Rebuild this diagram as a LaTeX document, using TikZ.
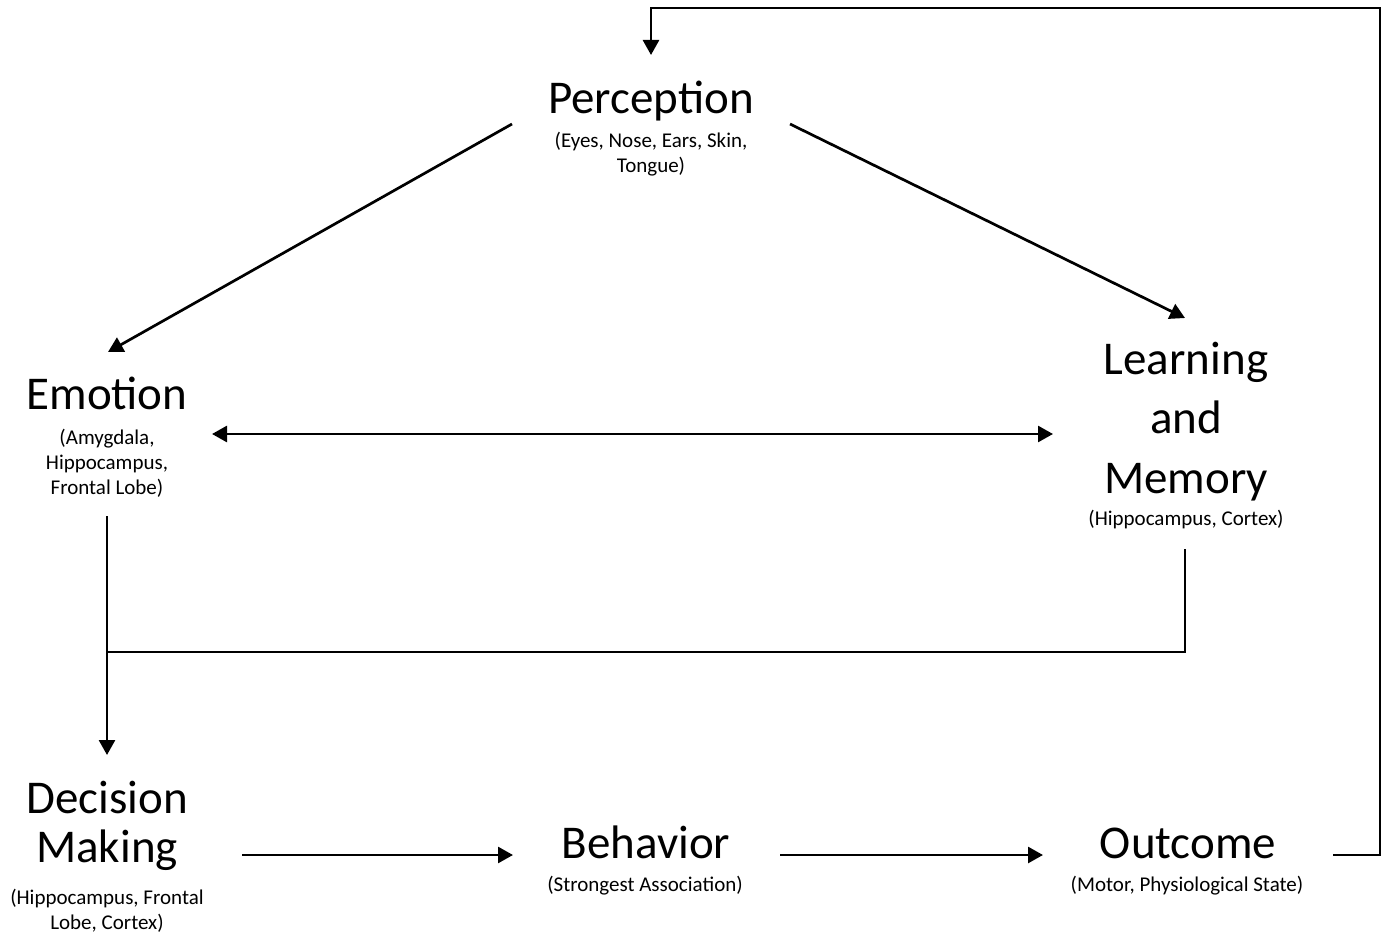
\documentclass[tikz,border=0pt]{standalone}
\usepackage{fontspec}
\setmainfont{Carlito}
\usetikzlibrary{arrows.meta}
\begin{document}
\begin{tikzpicture}[x=1pt,y=-1pt,
  title/.style={font=\fontsize{47}{57}\selectfont, inner sep=0pt, anchor=base, align=center},
  sub/.style={font=\fontsize{21}{25}\selectfont, inner sep=0pt, anchor=base, align=center},
  conn/.style={line width=2.7pt},
  arr/.style={conn, -{Triangle[length=15pt,width=16pt]}},
  darr/.style={conn, {Triangle[length=15pt,width=16pt]}-{Triangle[length=15pt,width=16pt]}}]
\path[use as bounding box, fill=white] (0,0) rectangle (1387,936);
% nodes (anchor base = baseline of the last line)
\node[title] (per) at (651,114) {Perception};
\node[sub] (perS) at (651,173) {(Eyes, Nose, Ears, Skin,\\Tongue)};
\node[title] (emo) at (107,409) {Emotion};
\node[sub] (emoS) at (107,494) {(Amygdala,\\Hippocampus,\\Frontal Lobe)};
\node[title, font=\fontsize{47}{59.5}\selectfont] (lm) at (1186,493) {Learning\\and\\Memory};
\node[sub] (lmS) at (1186,525) {(Hippocampus, Cortex)};
\node[title, font=\fontsize{47}{49}\selectfont] (dm) at (107,862) {Decision\\Making};
\node[sub] (dmS) at (107,929) {(Hippocampus, Frontal\\Lobe, Cortex)};
\node[title] (beh) at (646,858) {Behavior};
\node[sub] (behS) at (645,891) {(Strongest Association)};
\node[title] (out) at (1188,858) {Outcome};
\node[sub] (outS) at (1187,891) {(Motor, Physiological State)};
% connector end points
\coordinate (perL) at (512,124);
\coordinate (perR) at (790,124);
\coordinate (perT) at (651,55);
\coordinate (emoT) at (108,352);
\coordinate (emoR) at (212,434);
\coordinate (emoB) at (107,516);
\coordinate (lmT) at (1185,318);
\coordinate (lmL) at (1053,434);
\coordinate (lmB) at (1185,549);
\coordinate (join) at (107,652);
\coordinate (dmT) at (107,755);
\coordinate (dmR) at (242,855);
\coordinate (behL) at (513,855);
\coordinate (behR) at (780,855);
\coordinate (outL) at (1043,855);
\coordinate (outR) at (1333,855);
% connectors
\draw[arr] (perL) -- (emoT);
\draw[arr] (perR) -- (lmT);
\draw[darr] (emoR) -- (lmL);
\draw[arr] (emoB) -- (dmT);
\draw[conn] (lmB) |- (join);
\draw[arr] (dmR) -- (behL);
\draw[arr] (behR) -- (outL);
\draw[arr] (outR) -- (1380,855) -- (1380,8) -- (651,8) -- (perT);
\end{tikzpicture}
\end{document}
